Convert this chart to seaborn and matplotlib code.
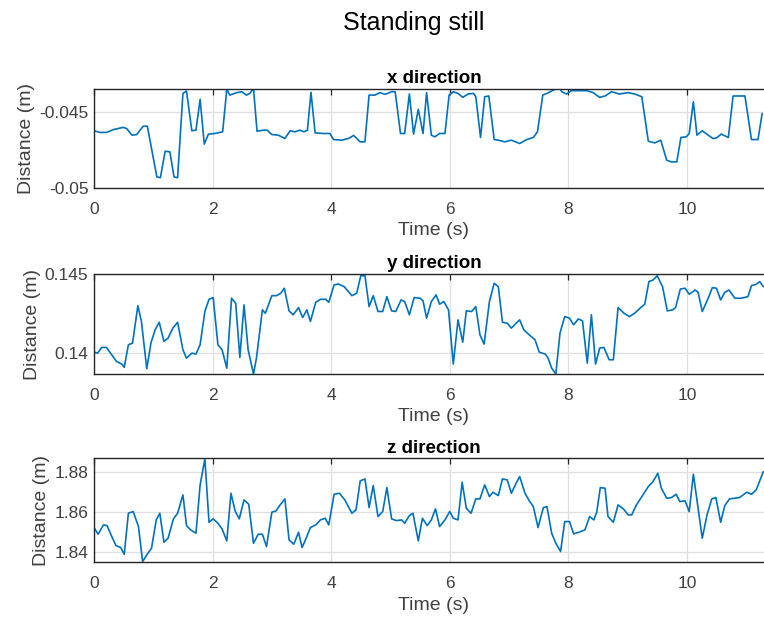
import numpy as np
import pandas as pd
import matplotlib
matplotlib.use("Agg")
import matplotlib.pyplot as plt
import seaborn as sns

# ---------------- data ----------------
t_x = [0.00, 0.10, 0.21, 0.33, 0.49, 0.55, 0.64, 0.72, 0.83, 0.90, 1.06, 1.12, 1.20, 1.28, 1.35, 1.41,
       1.50, 1.56, 1.65, 1.72, 1.79, 1.86, 1.93, 2.04, 2.17, 2.24, 2.29, 2.41, 2.49, 2.57, 2.63, 2.69,
       2.75, 2.86, 2.92, 3.00, 3.11, 3.22, 3.31, 3.39, 3.47, 3.54, 3.60, 3.66, 3.73, 3.87, 3.98, 4.04,
       4.18, 4.29, 4.38, 4.49, 4.57, 4.64, 4.74, 4.82, 4.91, 5.02, 5.08, 5.17, 5.24, 5.32, 5.39, 5.47,
       5.55, 5.61, 5.69, 5.75, 5.83, 5.92, 5.99, 6.06, 6.14, 6.22, 6.31, 6.40, 6.44, 6.52, 6.59, 6.66,
       6.75, 6.82, 6.93, 7.04, 7.18, 7.30, 7.41, 7.48, 7.57, 7.64, 7.75, 7.85, 7.89, 7.97, 8.05, 8.20,
       8.31, 8.42, 8.53, 8.62, 8.73, 8.86, 9.01, 9.12, 9.24, 9.35, 9.46, 9.56, 9.66, 9.74, 9.83, 9.90,
       9.99, 10.04, 10.11, 10.17, 10.26, 10.36, 10.44, 10.50, 10.58, 10.70, 10.78, 10.98, 11.09, 11.20, 11.27]
x_vals = [-0.04623, -0.04634, -0.04634, -0.04615, -0.04601, -0.04608, -0.04652, -0.04648, -0.04593, -0.04593,
          -0.04927, -0.04932, -0.04758, -0.04762, -0.04927, -0.04932, -0.04377, -0.04361, -0.04623, -0.04619,
          -0.04416, -0.04711, -0.04645, -0.04641, -0.04630, -0.04350, -0.04388, -0.04372, -0.04366, -0.04388,
          -0.04377, -0.04344, -0.04626, -0.04619, -0.04619, -0.04648, -0.04652, -0.04674, -0.04623, -0.04630,
          -0.04619, -0.04630, -0.04619, -0.04370, -0.04637, -0.04641, -0.04641, -0.04681, -0.04685, -0.04674,
          -0.04654, -0.04696, -0.04696, -0.04388, -0.04388, -0.04372, -0.04383, -0.04366, -0.04366, -0.04641,
          -0.04641, -0.04381, -0.04645, -0.04482, -0.04641, -0.04372, -0.04652, -0.04663, -0.04641, -0.04641,
          -0.04388, -0.04366, -0.04377, -0.04403, -0.04381, -0.04377, -0.04399, -0.04667, -0.04399, -0.04394,
          -0.04681, -0.04685, -0.04696, -0.04685, -0.04707, -0.04681, -0.04667, -0.04630, -0.04388, -0.04377,
          -0.04355, -0.04337, -0.04366, -0.04381, -0.04359, -0.04359, -0.04359, -0.04372, -0.04403, -0.04394,
          -0.04366, -0.04381, -0.04372, -0.04381, -0.04399, -0.04692, -0.04703, -0.04685, -0.04817, -0.04828,
          -0.04828, -0.04667, -0.04663, -0.04641, -0.04432, -0.04652, -0.04623, -0.04652, -0.04674, -0.04670,
          -0.04645, -0.04667, -0.04394, -0.04394, -0.04681, -0.04681, -0.04509]

t_y = [0.00, 0.06, 0.13, 0.21, 0.30, 0.38, 0.47, 0.51, 0.58, 0.65, 0.74, 0.80, 0.89, 0.96, 1.03, 1.10,
       1.18, 1.25, 1.33, 1.41, 1.50, 1.56, 1.65, 1.72, 1.79, 1.87, 1.94, 2.01, 2.09, 2.16, 2.24, 2.32,
       2.39, 2.46, 2.53, 2.60, 2.69, 2.74, 2.84, 2.89, 3.00, 3.08, 3.15, 3.21, 3.29, 3.36, 3.45, 3.52,
       3.59, 3.65, 3.74, 3.82, 3.91, 3.96, 4.05, 4.12, 4.22, 4.35, 4.43, 4.50, 4.57, 4.64, 4.71, 4.79,
       4.87, 4.94, 5.02, 5.09, 5.18, 5.24, 5.32, 5.40, 5.50, 5.55, 5.61, 5.69, 5.77, 5.83, 5.90, 5.98,
       6.06, 6.14, 6.22, 6.28, 6.37, 6.44, 6.51, 6.58, 6.67, 6.75, 6.82, 6.89, 6.97, 7.04, 7.12, 7.18,
       7.25, 7.34, 7.44, 7.51, 7.61, 7.66, 7.72, 7.79, 7.86, 7.94, 8.02, 8.09, 8.17, 8.24, 8.32, 8.39,
       8.46, 8.53, 8.60, 8.69, 8.76, 8.84, 8.94, 9.03, 9.12, 9.21, 9.29, 9.36, 9.43, 9.50, 9.59, 9.67,
       9.76, 9.81, 9.89, 9.97, 10.04, 10.14, 10.19, 10.26, 10.36, 10.43, 10.50, 10.57, 10.64, 10.71, 10.81,
       10.92, 11.03, 11.09, 11.17, 11.23, 11.29]
y_vals = [0.14006, 0.14000, 0.14036, 0.14036, 0.13989, 0.13947, 0.13931, 0.13910, 0.14053, 0.14063,
          0.14300, 0.14200, 0.13901, 0.14063, 0.14147, 0.14195, 0.14074, 0.14095, 0.14158, 0.14195,
          0.14021, 0.13968, 0.14000, 0.13994, 0.14053, 0.14263, 0.14340, 0.14351, 0.14053, 0.14021,
          0.13905, 0.14347, 0.14315, 0.13973, 0.14305, 0.14021, 0.13868, 0.13968, 0.14273, 0.14252,
          0.14363, 0.14363, 0.14378, 0.14410, 0.14267, 0.14242, 0.14288, 0.14225, 0.14273, 0.14200,
          0.14321, 0.14340, 0.14340, 0.14321, 0.14431, 0.14437, 0.14420, 0.14363, 0.14378, 0.14489,
          0.14489, 0.14294, 0.14363, 0.14263, 0.14263, 0.14357, 0.14267, 0.14263, 0.14336, 0.14326,
          0.14242, 0.14351, 0.14347, 0.14330, 0.14221, 0.14326, 0.14368, 0.14309, 0.14326, 0.14273,
          0.13931, 0.14210, 0.14069, 0.14267, 0.14263, 0.14294, 0.14116, 0.14057, 0.14326, 0.14441,
          0.14420, 0.14195, 0.14189, 0.14158, 0.14189, 0.14210, 0.14147, 0.14116, 0.14084, 0.14006,
          0.13994, 0.13968, 0.13905, 0.13868, 0.14126, 0.14231, 0.14221, 0.14179, 0.14216, 0.14204,
          0.13937, 0.14242, 0.13931, 0.14032, 0.14036, 0.13958, 0.13958, 0.14288, 0.14252, 0.14231,
          0.14252, 0.14284, 0.14309, 0.14452, 0.14462, 0.14489, 0.14420, 0.14267, 0.14273, 0.14288,
          0.14405, 0.14410, 0.14372, 0.14399, 0.14384, 0.14263, 0.14347, 0.14414, 0.14410, 0.14336,
          0.14384, 0.14399, 0.14347, 0.14347, 0.14357, 0.14426, 0.14435, 0.14452, 0.14420]

t_z = [0.00, 0.07, 0.16, 0.22, 0.30, 0.37, 0.45, 0.51, 0.58, 0.66, 0.75, 0.82, 0.89, 0.97, 1.05, 1.11,
       1.18, 1.25, 1.34, 1.41, 1.50, 1.56, 1.63, 1.72, 1.79, 1.87, 1.94, 2.01, 2.09, 2.16, 2.24, 2.31,
       2.38, 2.45, 2.53, 2.61, 2.69, 2.77, 2.84, 2.91, 3.00, 3.07, 3.14, 3.22, 3.29, 3.37, 3.45, 3.51,
       3.59, 3.65, 3.74, 3.82, 3.90, 3.96, 4.05, 4.14, 4.23, 4.35, 4.42, 4.49, 4.57, 4.64, 4.71, 4.79,
       4.87, 4.94, 5.02, 5.10, 5.19, 5.24, 5.32, 5.38, 5.47, 5.54, 5.62, 5.69, 5.76, 5.83, 5.92, 6.00,
       6.06, 6.14, 6.21, 6.28, 6.36, 6.44, 6.51, 6.59, 6.67, 6.73, 6.82, 6.89, 6.97, 7.04, 7.12, 7.18,
       7.27, 7.35, 7.41, 7.49, 7.58, 7.64, 7.72, 7.79, 7.87, 7.94, 8.02, 8.09, 8.18, 8.28, 8.36, 8.43,
       8.48, 8.54, 8.62, 8.67, 8.76, 8.84, 8.93, 9.01, 9.07, 9.15, 9.24, 9.35, 9.43, 9.51, 9.57, 9.66,
       9.74, 9.82, 9.88, 9.97, 10.04, 10.11, 10.19, 10.26, 10.34, 10.42, 10.49, 10.57, 10.64, 10.72,
       10.81, 10.89, 11.01, 11.09, 11.17, 11.29]
z_vals = [1.85217, 1.84883, 1.85350, 1.85317, 1.84767, 1.84317, 1.84217, 1.83883, 1.85933, 1.86017,
          1.85267, 1.83517, 1.83850, 1.84183, 1.85600, 1.85933, 1.84483, 1.84683, 1.85650, 1.85933,
          1.86850, 1.85317, 1.85100, 1.84933, 1.87350, 1.88650, 1.85483, 1.85650, 1.85433, 1.85150,
          1.84550, 1.86933, 1.86050, 1.85650, 1.86600, 1.86383, 1.84433, 1.84883, 1.84883, 1.84267,
          1.85983, 1.86050, 1.86350, 1.86650, 1.84600, 1.84383, 1.84983, 1.84217, 1.84767, 1.85217,
          1.85350, 1.85600, 1.85683, 1.85350, 1.86883, 1.86933, 1.86600, 1.85933, 1.86100, 1.87550,
          1.87650, 1.86217, 1.87317, 1.85767, 1.86017, 1.87217, 1.85650, 1.85567, 1.85600, 1.85433,
          1.85817, 1.85933, 1.84550, 1.85683, 1.85317, 1.85600, 1.86150, 1.85267, 1.85600, 1.86017,
          1.85683, 1.85600, 1.87483, 1.86183, 1.85933, 1.86650, 1.86650, 1.87350, 1.86767, 1.86983,
          1.86817, 1.87650, 1.87600, 1.86933, 1.87433, 1.87767, 1.86933, 1.86517, 1.86267, 1.85217,
          1.86217, 1.86267, 1.84933, 1.84433, 1.84017, 1.85517, 1.85517, 1.84900, 1.84983, 1.85100,
          1.85767, 1.85600, 1.85983, 1.87217, 1.87183, 1.85767, 1.85483, 1.86350, 1.86150, 1.85850,
          1.85850, 1.86350, 1.86767, 1.87267, 1.87517, 1.87933, 1.87183, 1.86683, 1.86717, 1.86883,
          1.86517, 1.86550, 1.86017, 1.87883, 1.86183, 1.84683, 1.85850, 1.86650, 1.86717, 1.85483,
          1.86317, 1.86650, 1.86683, 1.86717, 1.86983, 1.86883, 1.87100, 1.88017]

x_ticks = [0, 2, 4, 6, 8, 10]
x_ticklabels = ["0", "2", "4", "6", "8", "10"]
yticks_x = [-0.05, -0.045]
yticklabels_x = ["-0.05", "-0.045"]
yticks_y = [0.14, 0.145]
yticklabels_y = ["0.14", "0.145"]
yticks_z = [1.84, 1.86, 1.88]
yticklabels_z = ["1.84", "1.86", "1.88"]

titles = ["x direction", "y direction", "z direction"]
suptitle = "Standing still"
xlabel = "Time (s)"
ylabel = "Distance (m)"

# ---------------- styling ----------------
sns.set_theme(style="white")
plt.rcParams["font.family"] = ["Liberation Sans", "DejaVu Sans"]
plt.rcParams["axes.unicode_minus"] = False

W, H = 764, 618
fig = plt.figure(figsize=(W / 100, H / 100), dpi=100)

LINE = "#0072BD"
AXC = "#262626"
TXT = "#404040"
GRID = "#dfdfdf"

left = 94 / W
width = 680 / W
# (top_px, bottom_px) of each axes
boxes = [(89, 188), (274, 374), (458.3, 562.3)]
ylims = [(-0.05, -0.04348), (0.13868, 0.145), (1.8348, 1.8868)]
series = [(t_x, x_vals), (t_y, y_vals), (t_z, z_vals)]
yticks = [yticks_x, yticks_y, yticks_z]
yticklabels = [yticklabels_x, yticklabels_y, yticklabels_z]

for i in range(3):
    top_px, bot_px = boxes[i]
    ax = fig.add_axes([left, 1 - bot_px / H, width, (bot_px - top_px) / H])
    t, v = series[i]
    df = pd.DataFrame({"t": t, "v": v})
    sns.lineplot(data=df, x="t", y="v", ax=ax, color=LINE, linewidth=1.2, sort=False)
    ax.set_xlim(0, 11.47)
    ax.set_ylim(*ylims[i])
    ax.set_xticks(x_ticks)
    ax.set_xticklabels(x_ticklabels)
    ax.set_yticks(yticks[i])
    ax.set_yticklabels(yticklabels[i])
    ax.grid(True, color=GRID, linewidth=0.9)
    ax.set_axisbelow(True)
    for s in ax.spines.values():
        s.set_visible(True)
        s.set_color(AXC)
        s.set_linewidth(1.0)
    ax.tick_params(axis="both", direction="in", length=4, width=0.9, color=AXC,
                   labelcolor=TXT, labelsize=12.5, top=True, right=True)
    ax.tick_params(axis="x", pad=10)
    ax.tick_params(axis="y", pad=4)
    ax.set_xlabel(xlabel, fontsize=14, color=TXT, labelpad=4)
    ax.set_ylabel(ylabel, fontsize=14, color=TXT, labelpad=3)
    ax.set_title(titles[i], fontsize=13.5, fontweight="bold", color="black", pad=4)

fig.text(414 / W, 1 - 23 / H, suptitle, ha="center", va="center", fontsize=18, color="black")

fig.savefig("out.png", dpi=100)
